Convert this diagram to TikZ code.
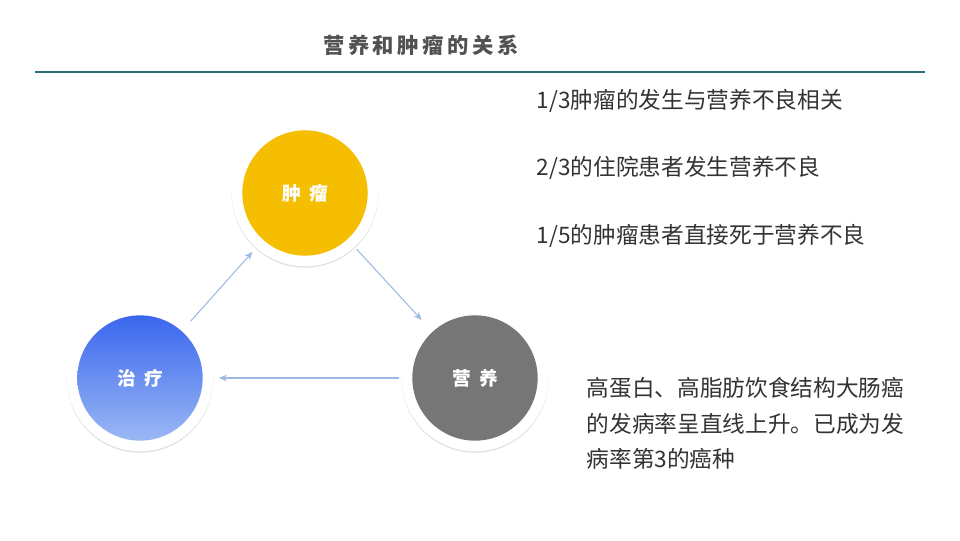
\documentclass[tikz,border=0pt]{standalone}
\usepackage{fontspec}
\setmainfont{Noto Sans CJK SC}
\usetikzlibrary{positioning,shadows,arrows.meta}
\definecolor{tumorcol}{HTML}{F5BE00}
\definecolor{careTop}{HTML}{3A66EE}
\definecolor{careBot}{HTML}{9BB8F4}
\definecolor{foodcol}{HTML}{767676}
\definecolor{rulecol}{HTML}{2F6F6F}
\definecolor{linkcol}{HTML}{9DB9E3}
\definecolor{textcol}{HTML}{333333}

\begin{document}
\begin{tikzpicture}[x=0.75pt,y=-0.75pt,
  ring/.style = {
    circle,
    fill = white,
    minimum size = 110pt,
    drop shadow = {opacity=0.25, shadow xshift=0pt, shadow yshift=-1pt},
  },
  core/.style = {
    circle,
    minimum size = 94pt,
    text = white,
    font = \fontsize{14}{16}\selectfont\bfseries,
  },
  note/.style = {
    anchor = west,
    text = textcol,
    font = \fontsize{17}{20}\selectfont,
  },
  link/.style = {
    draw = linkcol,
    line width = 0.8pt,
    -{Stealth[length=6pt,width=5pt]},
    shorten <= 2pt,
    shorten >= 4pt,
  },
]
  \useasboundingbox (0,0) rectangle (960,540);

  \node[text=textcol!85,font=\fontsize{16}{18}\selectfont\bfseries] (title) at (421,45) {营\,养\,和\,肿\,瘤\,的\,关\,系};
  \coordinate (ruleL) at (35,72);
  \coordinate (ruleR) at (925,72);
  \draw[rulecol,line width=0.8pt] (ruleL) -- (ruleR);

  % circles
  \node[ring] (tumorring) at (305,193) {};
  \node[core,fill=tumorcol] (tumor) at (tumorring) {肿\ \ 瘤};
  \node[ring] (carering) at (140,378) {};
  \node[core,top color=careTop,bottom color=careBot] (care) at (carering) {治\ \ 疗};
  \node[ring] (foodring) at (475,378) {};
  \node[core,fill=foodcol] (food) at (foodring) {营\ \ 养};

  \path[link] (carering) -- (tumorring);
  \path[link] (tumorring) -- (foodring);
  \path[link] (foodring) -- (carering);

  % notes
  \node[note] (n1) at (532,101) {1/3肿瘤的发生与营养不良相关};
  \node[note] (n2) at (532,168) {2/3的住院患者发生营养不良};
  \node[note] (n3) at (532,236) {1/5的肿瘤患者直接死于营养不良};
  \node[note,align=left,anchor=north west,font=\fontsize{17}{26.5}\selectfont] (n4) at (582,373)
    {高蛋白、高脂肪饮食结构大肠癌\\的发病率呈直线上升。已成为发\\病率第3的癌种};
\end{tikzpicture}
\end{document}
